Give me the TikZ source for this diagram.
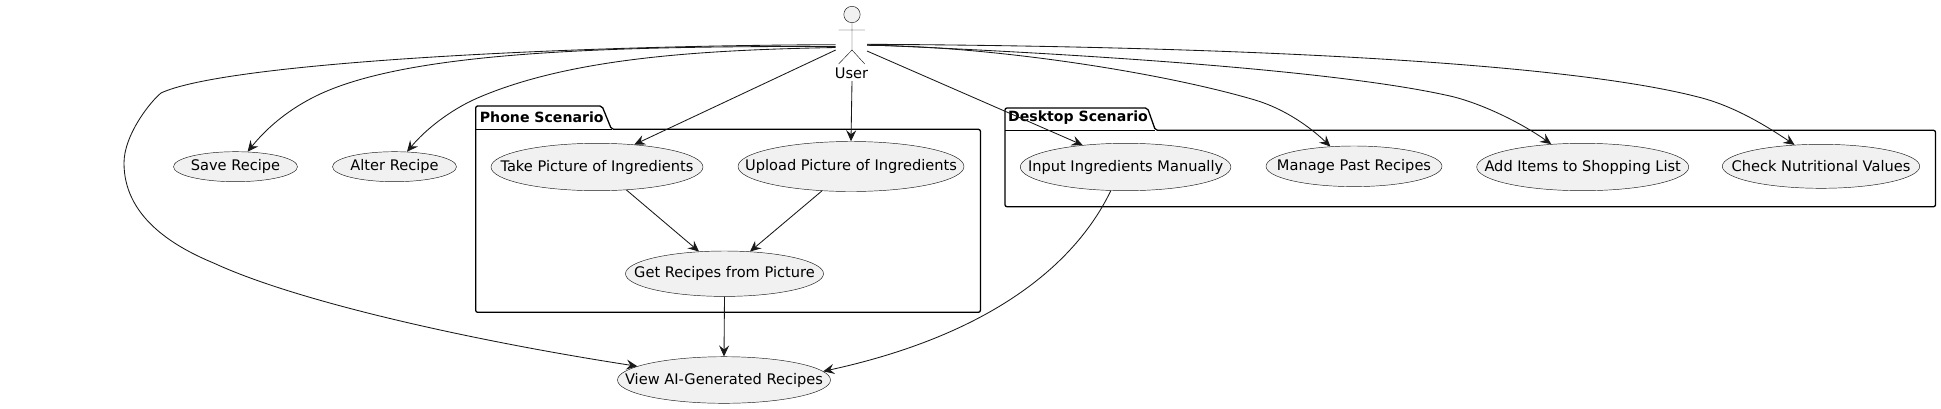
\documentclass[tikz,border=0pt]{standalone}
\usepackage{fontspec}
\setmainfont{DejaVu Sans}
\usetikzlibrary{shapes.geometric,arrows.meta}
\definecolor{ufill}{HTML}{F1F1F1}
\definecolor{uline}{HTML}{181818}
\newcommand{\uclabel}[1]{\makebox[0pt][c]{#1}}
\tikzset{
  usecase/.style={ellipse,draw=uline,line width=0.45pt,fill=ufill,inner sep=0pt,text=black,font=\fontsize{14.6}{16}\selectfont},
  pkg/.style={draw=black,line width=1.3pt,rounded corners=2pt,line join=round},
  pkglabel/.style={anchor=west,inner sep=0pt,font=\bfseries\fontsize{14.1}{16}\selectfont},
  conn/.style={draw=uline,line width=0.85pt,-{Stealth[length=11pt,width=10pt,inset=4pt]}},
  stick/.style={draw=uline,line width=0.45pt},
}
\begin{document}
\begin{tikzpicture}[x=1pt,y=-1pt]
\useasboundingbox (0,0) rectangle (1941,408);
% packages
\draw[pkg] (475.7,129.3) -- (475.7,106) -- (602,106) -- (611.5,129.3) -- (980.4,129.3) -- (980.4,312.3) -- (475.7,312.3) -- cycle;
\draw[pkg] (475.7,129.3) -- (611.5,129.3);
\node[pkglabel] (phone) at (479.7,117) {Phone Scenario};
\draw[pkg] (1005,130.3) -- (1005,108) -- (1147.5,108) -- (1155.4,130.3) -- (1935.5,130.3) -- (1935.5,206.7) -- (1005,206.7) -- cycle;
\draw[pkg] (1005,130.3) -- (1155.4,130.3);
\node[pkglabel] (desk) at (1008,118) {Desktop Scenario};
% use cases
\node[usecase,minimum width=124pt,minimum height=30pt] (save) at (235.5,166.7) {\uclabel{Save Recipe}};
\node[usecase,minimum width=124pt,minimum height=30pt] (alter) at (394.5,166.7) {\uclabel{Alter Recipe}};
\node[usecase,minimum width=212pt,minimum height=47.4pt] (take) at (597,167) {\uclabel{Take Picture of Ingredients}};
\node[usecase,minimum width=226pt,minimum height=50pt] (upload) at (851,166.5) {\uclabel{Upload Picture of Ingredients}};
\node[usecase,minimum width=198pt,minimum height=45.4pt] (get) at (724.5,273.7) {\uclabel{Get Recipes from Picture}};
\node[usecase,minimum width=213pt,minimum height=46.6pt] (view) at (724,380) {\uclabel{View AI-Generated Recipes}};
\node[usecase,minimum width=210.6pt,minimum height=47.4pt] (input) at (1125.6,167) {\uclabel{Input Ingredients Manually}};
\node[usecase,minimum width=176pt,minimum height=40.6pt] (manage) at (1354,166.3) {\uclabel{Manage Past Recipes}};
\node[usecase,minimum width=212pt,minimum height=47.4pt] (add) at (1582.7,167) {\uclabel{Add Items to Shopping List}};
\node[usecase,minimum width=197.4pt,minimum height=44pt] (check) at (1821,166.3) {\uclabel{Check Nutritional Values}};
% actor
\node[circle,draw=uline,line width=0.45pt,fill=ufill,minimum size=16.4pt,inner sep=0pt] (head) at (852,14.5) {};
\coordinate (hip) at (852,50);
\coordinate (armL) at (838.6,30);
\coordinate (armR) at (864.8,30);
\coordinate (legL) at (838.6,64);
\coordinate (legR) at (864.8,64);
\draw[stick] (head.south) -- (hip) (armL) -- (armR) (hip) -- (legL) (hip) -- (legR);
\node[inner sep=0pt,font=\fontsize{14.6}{16}\selectfont] (user) at (851.5,73) {User};
\coordinate (uL1) at (835.7,44.7);
\coordinate (uL2) at (835.7,46.5);
\coordinate (uL3) at (835.7,47.5);
\coordinate (uL4) at (835.7,50);
\coordinate (uR1) at (867,44.3);
\coordinate (uR2) at (867,44.8);
\coordinate (uR3) at (867,45.3);
\coordinate (uR4) at (867,51);
\coordinate (uB) at (852,81);
% connectors
\draw[conn] (uL1) .. controls (560,45.5) and (225,63) .. (161,93) .. controls (150,102) and (124,135) .. (124,163) .. controls (124,215) and (170,245) .. (213.6,263) .. controls (300,303) and (480,342) .. (view.171.8);
\draw[conn] (uL2) .. controls (600,46) and (400,52) .. (312,98) .. controls (285,112) and (265,130) .. (save.51);
\draw[conn] (uL3) .. controls (700,50) and (570,58) .. (477.5,98) .. controls (450,110) and (425,130) .. (alter.50);
\draw[conn] (uL4) -- (take.31);
\draw[conn] (uB) -- (upload.north);
\draw[conn] (uR4) -- (input.153);
\draw[conn] (uR3) .. controls (990,46) and (1160,72) .. (1255,100) .. controls (1285,109) and (1310,127) .. (manage.140);
\draw[conn] (uR2) .. controls (1040,52) and (1330,68) .. (1453,96.7) .. controls (1482,104) and (1520,122) .. (add.144.5);
\draw[conn] (uR1) .. controls (1200,46) and (1560,60) .. (1702,98) .. controls (1735,107) and (1765,125) .. (check.141);
\draw[conn] (take.-38) -- (get.139);
\draw[conn] (upload.-140) -- (get.41);
\draw[conn] (get.south) -- (view.north);
\draw[conn] (input.-122) .. controls (1075,265) and (990,335) .. (view.5.8);
\end{tikzpicture}
\end{document}
